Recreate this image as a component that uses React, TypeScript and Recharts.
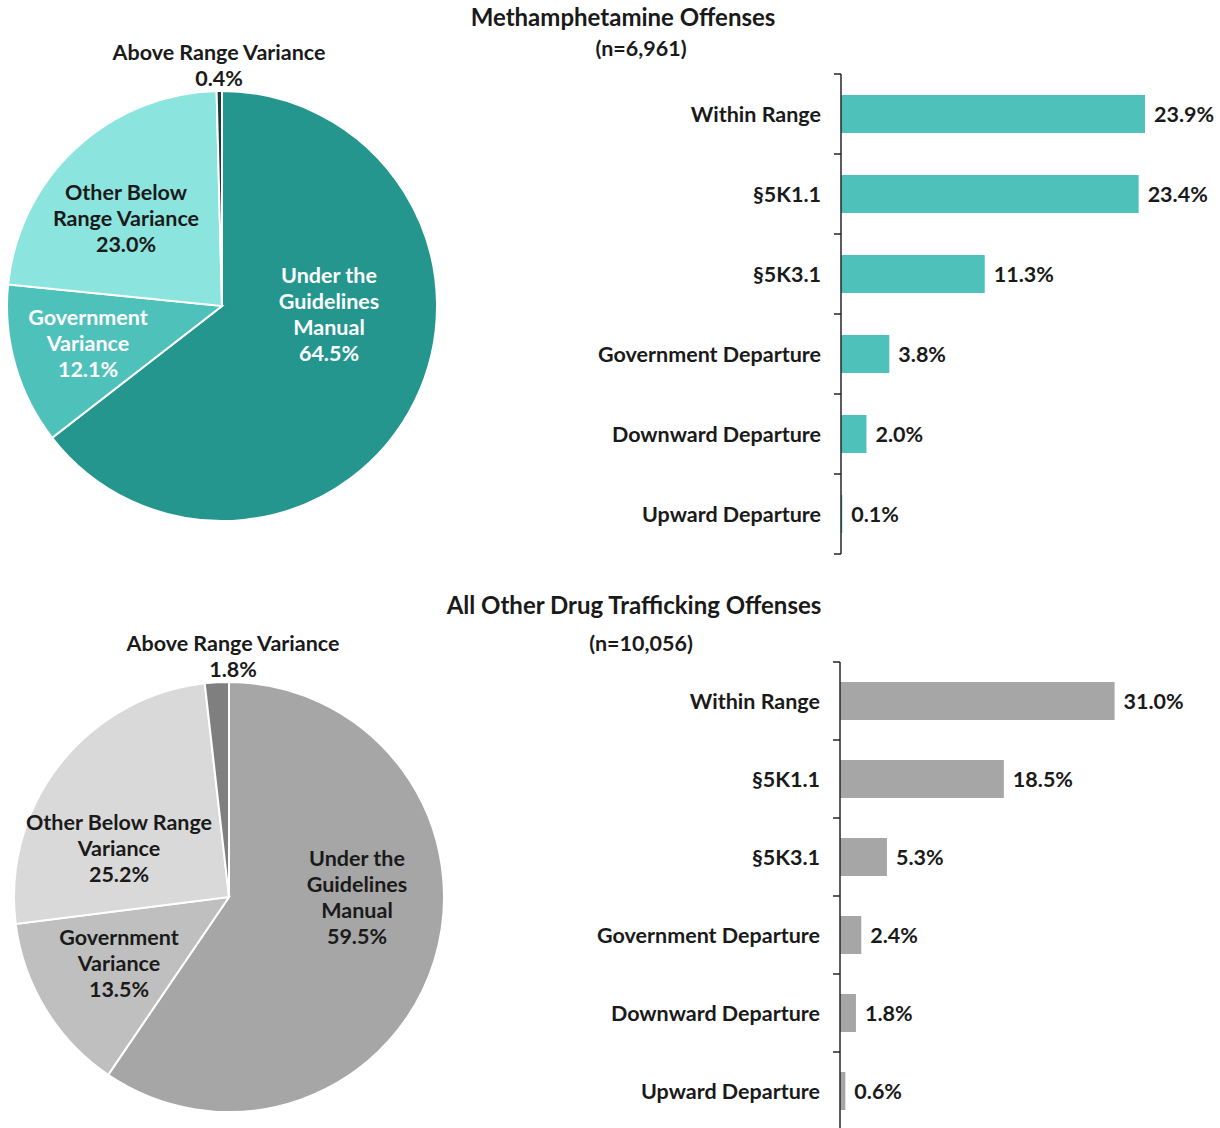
import React from "react";
import { PieChart, Pie, Cell, BarChart, Bar, XAxis, YAxis, LabelList } from "recharts";

// ---------- data ----------
const pieCategories = ["Under the Guidelines Manual", "Government Variance", "Other Below Range Variance", "Above Range Variance"];
const methPieValues = [64.5, 12.1, 23.0, 0.4];
const otherPieValues = [59.5, 13.5, 25.2, 1.8];

const barCategories = ["Within Range", "§5K1.1", "§5K3.1", "Government Departure", "Downward Departure", "Upward Departure"];
const methBarValues = [23.9, 23.4, 11.3, 3.8, 2.0, 0.1];
const otherBarValues = [31.0, 18.5, 5.3, 2.4, 1.8, 0.6];

const methTitle = "Methamphetamine Offenses";
const methSubtitle = "(n=6,961)";
const otherTitle = "All Other Drug Trafficking Offenses";
const otherSubtitle = "(n=10,056)";

// ---------- label layout (style only) ----------
const methLabelLines = [
  ["Under the", "Guidelines", "Manual"],
  ["Government", "Variance"],
  ["Other Below", "Range Variance"],
  ["Above Range Variance"],
];
const otherLabelLines = [
  ["Under the", "Guidelines", "Manual"],
  ["Government", "Variance"],
  ["Other Below Range", "Variance"],
  ["Above Range Variance"],
];
const methLabelOffsets = [
  [107, 8],
  [-134, 37],
  [-96, -88],
  [-3, -241],
];
const otherLabelOffsets = [
  [128, 0],
  [-110, 66],
  [-110, -49],
  [4, -241],
];
const methColors = ["#24968e", "#4fc1bb", "#8ce4de", "#1d3b39"];
const methLabelColors = ["#ffffff", "#ffffff", "#1a1a1a", "#1a1a1a"];
const otherColors = ["#a6a6a6", "#bfbfbf", "#d9d9d9", "#7f7f7f"];
const otherLabelColors = ["#1a1a1a", "#1a1a1a", "#1a1a1a", "#1a1a1a"];

const FONT = "Lato, 'Open Sans', sans-serif";
const TEXT = "#1a1a1a";
const LABEL_SIZE = 21.5;

const makePieData = (vals: number[]) => pieCategories.map((name, i) => ({ name, value: vals[i] }));
const makeBarData = (vals: number[]) => barCategories.map((name, i) => ({ name, value: vals[i] }));

function makePieLabel(lines: string[][], offsets: number[][], colors: string[]) {
  return (props: any) => {
    const { cx, cy, index, value } = props;
    const all = [...lines[index], `${Number(value).toFixed(1)}%`];
    const bx = cx + offsets[index][0];
    const by = cy + offsets[index][1] - ((all.length - 1) * 26) / 2;
    return (
      <text
        key={`lbl-${index}`}
        x={bx}
        y={by}
        textAnchor="middle"
        dominantBaseline="central"
        fill={colors[index]}
        fontFamily={FONT}
        fontWeight={700}
        fontSize={LABEL_SIZE}
      >
        {all.map((t, i) => (
          <tspan key={i} x={bx} dy={i === 0 ? 0 : 26}>
            {t}
          </tspan>
        ))}
      </text>
    );
  };
}

function makeTick(band: number, count: number) {
  return (props: any) => {
    const { x, y, payload, index } = props;
    const ax = x + 20;
    return (
      <g>
        <text
          x={x}
          y={y}
          textAnchor="end"
          dominantBaseline="central"
          fill={TEXT}
          fontFamily={FONT}
          fontWeight={700}
          fontSize={LABEL_SIZE}
        >
          {payload.value}
        </text>
        <line x1={ax - 7} x2={ax} y1={y - band / 2} y2={y - band / 2} stroke="#262626" strokeWidth={1.5} />
        {index === count - 1 && (
          <line x1={ax - 7} x2={ax} y1={y + band / 2} y2={y + band / 2} stroke="#262626" strokeWidth={1.5} />
        )}
      </g>
    );
  };
}

const barLabel = (props: any) => {
  const { x, y, width, height, value } = props;
  return (
    <text
      x={x + width + 9}
      y={y + height / 2}
      dominantBaseline="central"
      fill={TEXT}
      fontFamily={FONT}
      fontWeight={700}
      fontSize={LABEL_SIZE}
    >
      {`${Number(value).toFixed(1)}%`}
    </text>
  );
};

const titleStyle = (top: number, cx: number, size: number): React.CSSProperties => ({
  position: "absolute",
  top,
  left: cx - 300,
  width: 600,
  textAlign: "center",
  fontFamily: FONT,
  fontWeight: 700,
  fontSize: size,
  lineHeight: "26px",
  color: TEXT,
});

export default function App() {
  const methPie = makePieData(methPieValues);
  const otherPie = makePieData(otherPieValues);
  const methBar = makeBarData(methBarValues);
  const otherBar = makeBarData(otherBarValues);

  return (
    <div style={{ position: "absolute", left: 0, top: 0, width: 1220, height: 1128, overflow: "hidden", background: "#fff" }}>
      <div style={titleStyle(4, 623, 24)}>{methTitle}</div>
      <div style={titleStyle(35, 641, 21.5)}>{methSubtitle}</div>
      <div style={titleStyle(592, 634, 24)}>{otherTitle}</div>
      <div style={titleStyle(630, 641, 21.5)}>{otherSubtitle}</div>

      <div style={{ position: "absolute", left: 0, top: 0 }}>
        <PieChart width={470} height={570}>
          <Pie
            data={methPie}
            dataKey="value"
            cx={217}
            cy={301}
            outerRadius={215}
            startAngle={90}
            endAngle={-270}
            stroke="#ffffff"
            strokeWidth={2}
            isAnimationActive={false}
            labelLine={false}
            label={makePieLabel(methLabelLines, methLabelOffsets, methLabelColors)}
          >
            {methPie.map((d, i) => (
              <Cell key={d.name} fill={methColors[i]} />
            ))}
          </Pie>
        </PieChart>
      </div>

      <div style={{ position: "absolute", left: 0, top: 580 }}>
        <PieChart width={470} height={548}>
          <Pie
            data={otherPie}
            dataKey="value"
            cx={224}
            cy={312}
            outerRadius={215}
            startAngle={90}
            endAngle={-270}
            stroke="#ffffff"
            strokeWidth={2}
            isAnimationActive={false}
            labelLine={false}
            label={makePieLabel(otherLabelLines, otherLabelOffsets, otherLabelColors)}
          >
            {otherPie.map((d, i) => (
              <Cell key={d.name} fill={otherColors[i]} />
            ))}
          </Pie>
        </PieChart>
      </div>

      <div style={{ position: "absolute", left: 560, top: 0 }}>
        <BarChart
          width={660}
          height={564}
          data={methBar}
          layout="vertical"
          margin={{ top: 74, right: 61, bottom: 10, left: 0 }}
        >
          <XAxis type="number" domain={[0, 25]} hide />
          <YAxis
            type="category"
            dataKey="name"
            width={281}
            tickLine={false}
            tickSize={0}
            tickMargin={20}
            axisLine={{ stroke: "#262626", strokeWidth: 1.5 }}
            tick={makeTick(80, barCategories.length)}
            interval={0}
          />
          <Bar dataKey="value" fill="#4fc1bb" barSize={38} isAnimationActive={false}>
            <LabelList dataKey="value" content={barLabel} />
          </Bar>
        </BarChart>
      </div>

      <div style={{ position: "absolute", left: 560, top: 580 }}>
        <BarChart
          width={660}
          height={560}
          data={otherBar}
          layout="vertical"
          margin={{ top: 82, right: 70, bottom: 10, left: 0 }}
        >
          <XAxis type="number" domain={[0, 35]} hide />
          <YAxis
            type="category"
            dataKey="name"
            width={280}
            tickLine={false}
            tickSize={0}
            tickMargin={20}
            axisLine={{ stroke: "#262626", strokeWidth: 1.5 }}
            tick={makeTick(78, barCategories.length)}
            interval={0}
          />
          <Bar dataKey="value" fill="#a6a6a6" barSize={38} isAnimationActive={false}>
            <LabelList dataKey="value" content={barLabel} />
          </Bar>
        </BarChart>
      </div>
    </div>
  );
}
